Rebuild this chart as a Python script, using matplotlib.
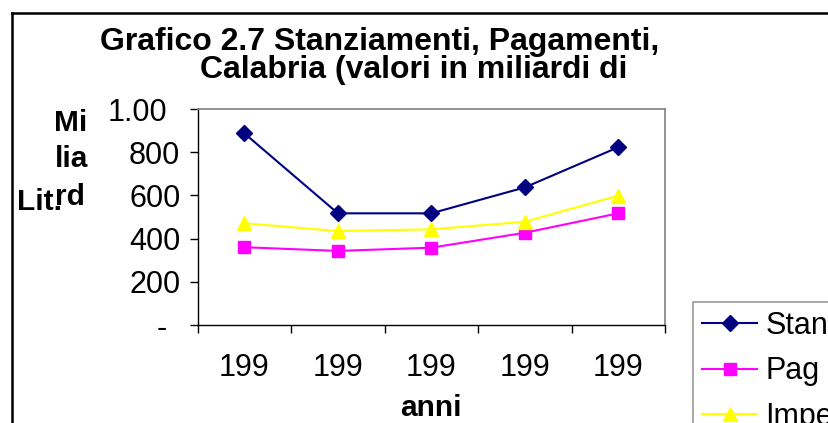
import matplotlib
matplotlib.use("Agg")
from matplotlib import pyplot
from matplotlib.lines import Line2D
from matplotlib.transforms import ScaledTranslation

pyplot.rcParams["font.family"] = ["Liberation Sans", "DejaVu Sans"]

# data (miliardi di lire)
anni = ["199", "199", "199", "199", "199"]
stanziamenti = [887, 517, 517, 637, 823]
pagamenti = [360, 343, 358, 427, 517]
impegni = [471, 435, 443, 478, 599]
serie_nomi = ["Stan", "Pag", "Impe"]
y_ticks = [0, 200, 400, 600, 800, 1000]
y_labels = ["-", "200", "400", "600", "800", "1.00"]

W, H = 829, 423
fig = pyplot.figure(figsize=(W / 100, H / 100), dpi=100)

def fx(px):
    return px / W

def fy(py):
    return 1 - py / H

left, right, top, bottom = 197.7, 665, 109, 325
ax = fig.add_axes([fx(left), fy(bottom), fx(right - left), fy(top) - fy(bottom)])

xs = [i + 0.5 for i in range(len(anni))]
ax.plot(xs, stanziamenti, color="#000080", lw=1.5, marker="D", ms=8,
        label=serie_nomi[0])
ax.plot(xs, pagamenti, color="#FF00FF", lw=1.5, marker="s", ms=9,
        label=serie_nomi[1])
ax.plot(xs, impegni, color="#FFFF00", lw=1.5, marker="^", ms=10,
        label=serie_nomi[2])

ax.set_xlim(0, len(anni))
ax.set_ylim(0, 1000)

ax.set_xticks(range(len(anni) + 1))
ax.set_xticklabels([])
ax.set_xticks(xs, minor=True)
ax.set_xticklabels(anni, minor=True)
ax.tick_params(axis="x", which="major", direction="out", length=6, width=1)
ax.tick_params(axis="x", which="minor", length=0, pad=20, labelsize=22)

ax.set_yticks(y_ticks)
ax.set_yticklabels(y_labels)
ax.tick_params(axis="y", direction="out", length=5.5, width=1, pad=7,
               labelsize=22)

# the truncated labels sit a bit further left in the original
shift = ScaledTranslation(-13 / 100, 0, fig.dpi_scale_trans)
for lbl in (ax.get_yticklabels()[0], ax.get_yticklabels()[-1]):
    lbl.set_transform(lbl.get_transform() + shift)

for s in ("top", "right"):
    ax.spines[s].set_color("#808080")
    ax.spines[s].set_linewidth(1.2)
for s in ("left", "bottom"):
    ax.spines[s].set_color("black")
    ax.spines[s].set_linewidth(1)

ax.set_xlabel("anni", fontsize=21.5, fontweight="bold", labelpad=8)

# title (wrapped / truncated as in the original)
fig.text(fx(380), fy(50), "Grafico 2.7 Stanziamenti, Pagamenti,",
         ha="center", va="baseline", fontsize=23, fontweight="bold")
fig.text(fx(414), fy(78), "Calabria (valori in miliardi di",
         ha="center", va="baseline", fontsize=23, fontweight="bold")

# y axis title, squeezed
for txt, x, y in [("Mi", 71, 130.7), ("lia", 71.5, 166.7), ("rd", 70, 205)]:
    fig.text(fx(x), fy(y), txt, ha="center", va="baseline", fontsize=21.5,
             fontweight="bold")
fig.text(fx(40), fy(210), "Lit.", ha="center", va="baseline", fontsize=21.5,
         fontweight="bold")

leg = fig.legend(loc="upper left", bbox_to_anchor=(fx(693), fy(302)),
                 fontsize=22, frameon=True, fancybox=False,
                 edgecolor="#808080", handlelength=1.8, handletextpad=0.26,
                 borderpad=0.3, labelspacing=0.5, borderaxespad=0)
leg.get_frame().set_linewidth(1.2)

# outer chart frame, cut off by the image edge
fig.add_artist(Line2D([fx(12), 1.02], [fy(13), fy(13)], color="black", lw=1.8))
fig.add_artist(Line2D([fx(12), fx(12)], [fy(13), -0.02], color="black", lw=1.8))

fig.savefig("out.png", dpi=100)
